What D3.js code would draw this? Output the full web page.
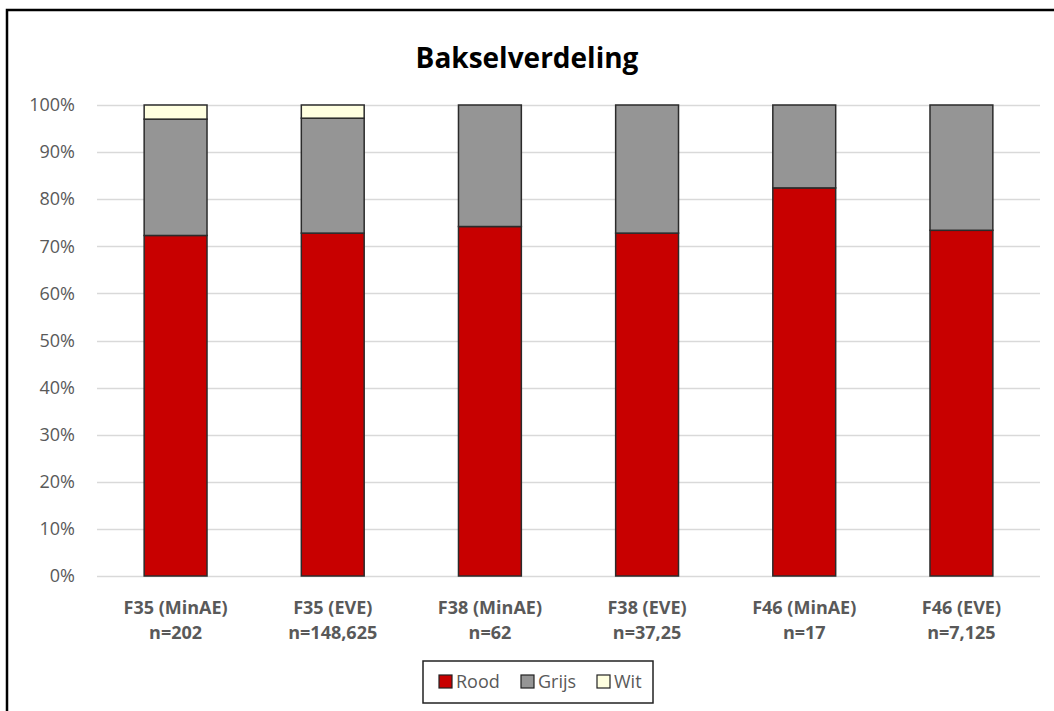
<!DOCTYPE html>
<html>
<head>
<meta charset="utf-8">
<script src="https://cdn.jsdelivr.net/npm/d3@7"></script>
<style>
  body { margin: 0; background: #fff; }
  svg { display: block; font-family: "Open Sans", Lato, sans-serif; }
</style>
</head>
<body>
<svg id="chart" width="1054" height="711"></svg>
<script>
// categories (two-line labels)
const groups = ["F35 (MinAE)", "F35 (EVE)", "F38 (MinAE)", "F38 (EVE)", "F46 (MinAE)", "F46 (EVE)"];
const sampleSizes = ["n=202", "n=148,625", "n=62", "n=37,25", "n=17", "n=7,125"];
// share per class (fractions)
const rood  = [0.723, 0.728, 0.742, 0.728, 0.824, 0.734];
const grijs = [0.247, 0.244, 0.258, 0.272, 0.176, 0.266];
const wit   = [0.030, 0.028, 0.000, 0.000, 0.000, 0.000];
const seriesNames = ["Rood", "Grijs", "Wit"];
const yTicks = [0, 0.1, 0.2, 0.3, 0.4, 0.5, 0.6, 0.7, 0.8, 0.9, 1.0];

const colors = { Rood: "#c80000", Grijs: "#959595", Wit: "#ffffe0" };

const svg = d3.select("#chart");
const margin = { top: 105, left: 97, right: 14, bottom: 135 };
const W = 1054, H = 711;

// outer chart frame
svg.append("rect")
    .attr("x", 7).attr("y", 10)
    .attr("width", 1060).attr("height", 720)
    .attr("fill", "#fff").attr("stroke", "#000").attr("stroke-width", 2.5);

const table = groups.map((g, i) => ({ group: g, Rood: rood[i], Grijs: grijs[i], Wit: wit[i] }));

const x = d3.scaleBand()
    .domain(groups)
    .range([margin.left, W - margin.right])
    .paddingInner(0.6)
    .paddingOuter(0.3);

const y = d3.scaleLinear()
    .domain([0, 1])
    .range([H - margin.bottom, margin.top]);

// gridlines
svg.append("g")
    .selectAll("line")
    .data(yTicks)
    .enter().append("line")
    .attr("x1", margin.left).attr("x2", W - margin.right)
    .attr("y1", d => Math.round(y(d)) + 0.5).attr("y2", d => Math.round(y(d)) + 0.5)
    .attr("stroke", "#d9d9d9").attr("stroke-width", 1.5);

// y axis labels
const yAxis = svg.append("g")
    .attr("transform", `translate(${margin.left - 22},0)`)
    .call(d3.axisLeft(y).tickValues(yTicks).tickFormat(d3.format(".0%")).tickSize(0).tickPadding(0));
yAxis.select(".domain").remove();
yAxis.selectAll("text")
    .attr("fill", "#595959")
    .style("font-size", "18px")
    .style("font-family", "'Open Sans', sans-serif");

// stacked bars
const stacked = d3.stack().keys(seriesNames)(table);
svg.append("g")
    .selectAll("g")
    .data(stacked)
    .enter().append("g")
    .attr("fill", d => colors[d.key])
    .selectAll("rect")
    .data(d => d.filter(s => s[1] - s[0] > 0))
    .enter().append("rect")
    .attr("x", d => x(d.data.group))
    .attr("y", d => y(d[1]))
    .attr("width", x.bandwidth())
    .attr("height", d => y(d[0]) - y(d[1]))
    .attr("stroke", "#2b2b2b")
    .attr("stroke-width", 1.5);

// x labels
const xl = svg.append("g")
    .selectAll("text")
    .data(groups)
    .enter().append("text")
    .attr("x", d => x(d) + x.bandwidth() / 2)
    .attr("y", 614)
    .attr("text-anchor", "middle")
    .attr("fill", "#595959")
    .style("font-size", "18px")
    .style("font-weight", "bold");
xl.append("tspan").text(d => d);
xl.append("tspan")
    .attr("x", d => x(d) + x.bandwidth() / 2)
    .attr("dy", 25)
    .text((d, i) => sampleSizes[i]);

// title
svg.append("text")
    .attr("x", 527).attr("y", 68)
    .attr("text-anchor", "middle")
    .attr("fill", "#000")
    .style("font-size", "28px")
    .style("font-weight", "bold")
    .text("Bakselverdeling");

// legend
const legend = svg.append("g");
legend.append("rect")
    .attr("x", 423).attr("y", 661)
    .attr("width", 230).attr("height", 42)
    .attr("fill", "#fff").attr("stroke", "#222").attr("stroke-width", 1.5);
const legendX = [439, 521, 597];
const items = legend.selectAll("g.item")
    .data(seriesNames)
    .enter().append("g")
    .attr("class", "item")
    .attr("transform", (d, i) => `translate(${legendX[i]},675)`);
items.append("rect")
    .attr("width", 13).attr("height", 13)
    .attr("fill", d => colors[d])
    .attr("stroke", "#222").attr("stroke-width", 1.2);
items.append("text")
    .attr("x", 17).attr("y", 13)
    .attr("fill", "#595959")
    .style("font-size", "18px")
    .text(d => d);
</script>
</body>
</html>
